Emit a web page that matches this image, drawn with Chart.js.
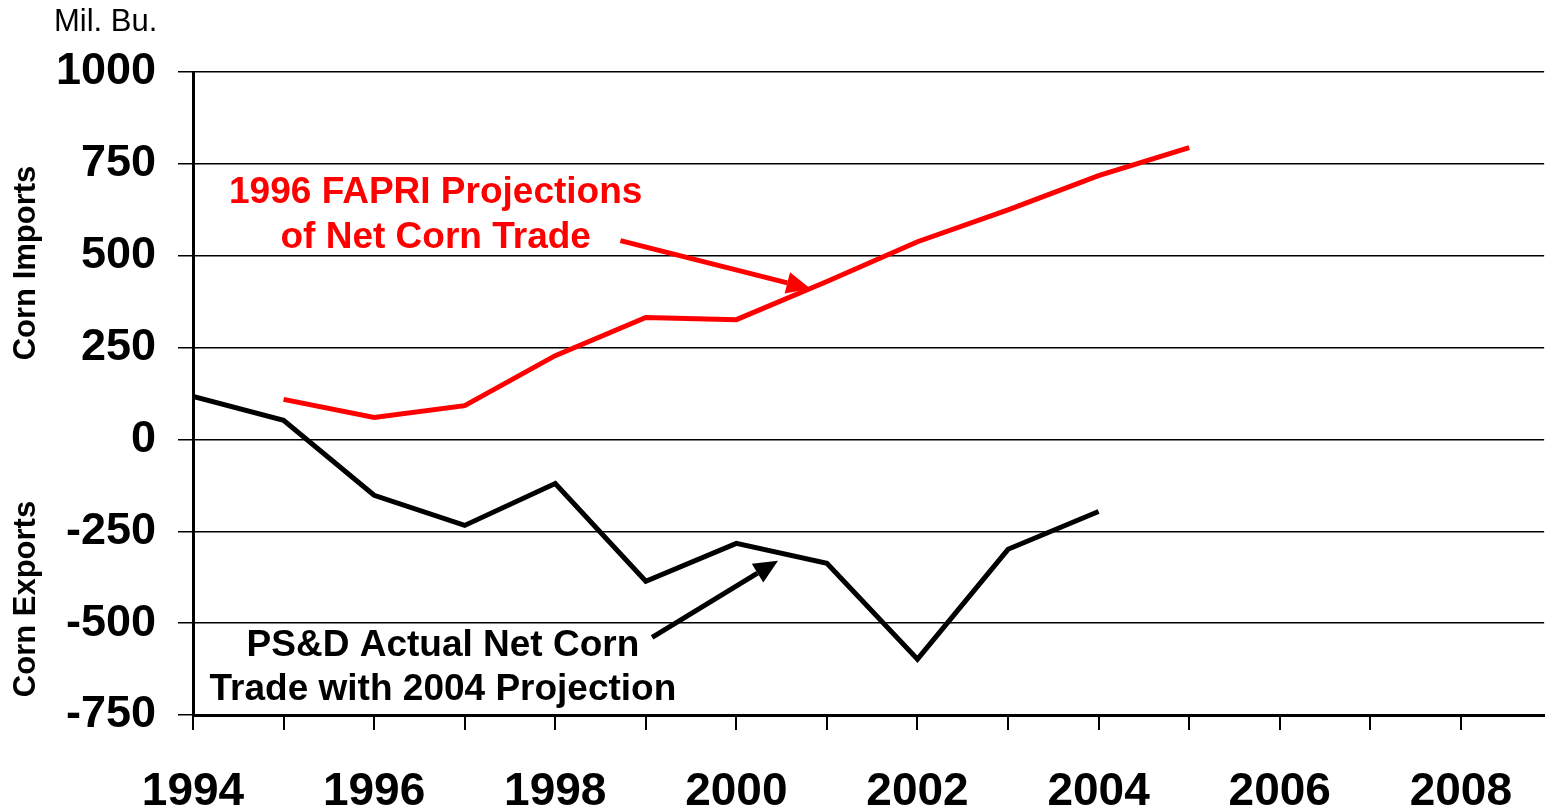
<!DOCTYPE html>
<html>
<head>
<meta charset="utf-8">
<script src="https://cdn.jsdelivr.net/npm/chart.js@4"></script>
<style>
  html, body { margin: 0; padding: 0; background: #fff; }
  #wrap { width: 1547px; height: 811px; position: relative; }
</style>
</head>
<body>
<div id="wrap"><canvas id="myChart" width="1547" height="811"></canvas></div>
<script>
// years and net corn trade (mil. bu.)
var actual_years = [1994, 1995, 1996, 1997, 1998, 1999, 2000, 2001, 2002, 2003, 2004];
var actual_vals  = [117, 52, -152, -234, -120, -386, -283, -337, -598, -299, -196];
var fapri_years  = [1995, 1996, 1997, 1998, 1999, 2000, 2001, 2002, 2003, 2004, 2005];
var fapri_vals   = [109, 60, 92, 228, 332, 326, 430, 538, 625, 718, 794];
var y_ticks = [-750, -500, -250, 0, 250, 500, 750, 1000];

function to_points(xs, ys) {
  return xs.map((x, i) => ({ x: x, y: ys[i] }));
}

// notes and arrows placed in data units
var notes = [
  { lines: ['1996 FAPRI Projections', 'of Net Corn Trade'], x: 1996.68, y: [672, 549], color: '#ff0000' },
  { lines: ['PS&D Actual Net Corn', 'Trade with 2004 Projection'], x: 1996.76, y: [-562, -681], color: '#000000' }
];
var arrows = [
  { from: [1998.72, 541], to: [2000.82, 410], color: '#ff0000' },
  { from: [1999.07, -539], to: [2000.46, -330], color: '#000000' }
];

const FONT = "'Liberation Sans', Arial, sans-serif";

const extras = {
  id: 'extras',
  afterDraw(chart) {
    const ctx = chart.ctx;
    const xs = chart.scales.x, ys = chart.scales.y;
    ctx.save();
    // arrows
    arrows.forEach(a => {
      const x1 = xs.getPixelForValue(a.from[0]), y1 = ys.getPixelForValue(a.from[1]);
      const x2 = xs.getPixelForValue(a.to[0]), y2 = ys.getPixelForValue(a.to[1]);
      const ang = Math.atan2(y2 - y1, x2 - x1);
      const head = 24, wide = 11;
      const bx = x2 - head * Math.cos(ang), by = y2 - head * Math.sin(ang);
      ctx.strokeStyle = a.color;
      ctx.fillStyle = a.color;
      ctx.lineWidth = 5;
      ctx.beginPath();
      ctx.moveTo(x1, y1);
      ctx.lineTo(bx, by);
      ctx.stroke();
      ctx.beginPath();
      ctx.moveTo(x2, y2);
      ctx.lineTo(bx + wide * Math.sin(ang), by - wide * Math.cos(ang));
      ctx.lineTo(bx - wide * Math.sin(ang), by + wide * Math.cos(ang));
      ctx.closePath();
      ctx.fill();
    });
    // notes
    ctx.textAlign = 'center';
    ctx.textBaseline = 'middle';
    ctx.font = 'bold 37px ' + FONT;
    notes.forEach(n => {
      ctx.fillStyle = n.color;
      n.lines.forEach((t, i) => {
        ctx.fillText(t, xs.getPixelForValue(n.x), ys.getPixelForValue(n.y[i]));
      });
    });
    // axis titles
    ctx.fillStyle = '#000';
    ctx.font = '31px ' + FONT;
    ctx.textAlign = 'left';
    ctx.fillText('Mil. Bu.', 54, 22);
    ctx.font = 'bold 31px ' + FONT;
    ctx.textAlign = 'center';
    ctx.save();
    ctx.translate(26, 263);
    ctx.rotate(-Math.PI / 2);
    ctx.fillText('Corn Imports', 0, 0);
    ctx.restore();
    ctx.save();
    ctx.translate(26, 599);
    ctx.rotate(-Math.PI / 2);
    ctx.fillText('Corn Exports', 0, 0);
    ctx.restore();
    ctx.restore();
  }
};

const ctx = document.getElementById('myChart');
new Chart(ctx, {
  type: 'line',
  data: {
    datasets: [
      {
        label: '1996 FAPRI Projections',
        data: to_points(fapri_years, fapri_vals),
        borderColor: '#ff0000',
        borderWidth: 5,
        pointRadius: 0,
        tension: 0,
      },
      {
        label: 'PS&D Actual',
        data: to_points(actual_years, actual_vals),
        borderColor: '#000000',
        borderWidth: 5,
        pointRadius: 0,
        tension: 0,
      },
    ],
  },
  options: {
    responsive: false,
    animation: false,
    layout: { padding: { top: 72, right: 0, left: 0, bottom: 0 } },
    plugins: { legend: { display: false }, tooltip: { enabled: false } },
    scales: {
      x: {
        type: 'linear',
        min: 1994,
        max: 2008.92,
        afterFit: s => { s.height = 96; },
        afterBuildTicks: s => {
          s.ticks = [];
          for (let yr = 1994; yr <= 2008; yr++) s.ticks.push({ value: yr });
        },
        ticks: {
          autoSkip: false,
          maxRotation: 0,
          padding: 35,
          color: '#000',
          font: { family: FONT, size: 46, weight: 'bold' },
          callback: v => (v % 2 === 0 ? String(v) : ''),
        },
        grid: { drawOnChartArea: false, drawTicks: true, tickLength: 15, color: '#000', lineWidth: 2 },
        border: { color: '#000', width: 3 },
      },
      y: {
        min: -750,
        max: 1000,
        afterFit: s => { s.width = 193; },
        afterBuildTicks: s => { s.ticks = y_ticks.map(v => ({ value: v })); },
        ticks: {
          padding: 22,
          color: '#000',
          font: { family: FONT, size: 45, weight: 'bold' },
          callback: v => String(v),
        },
        grid: { color: '#000', lineWidth: 1.5, tickLength: 15 },
        border: { color: '#000', width: 3 },
      },
    },
  },
  plugins: [extras],
});
</script>
</body>
</html>
